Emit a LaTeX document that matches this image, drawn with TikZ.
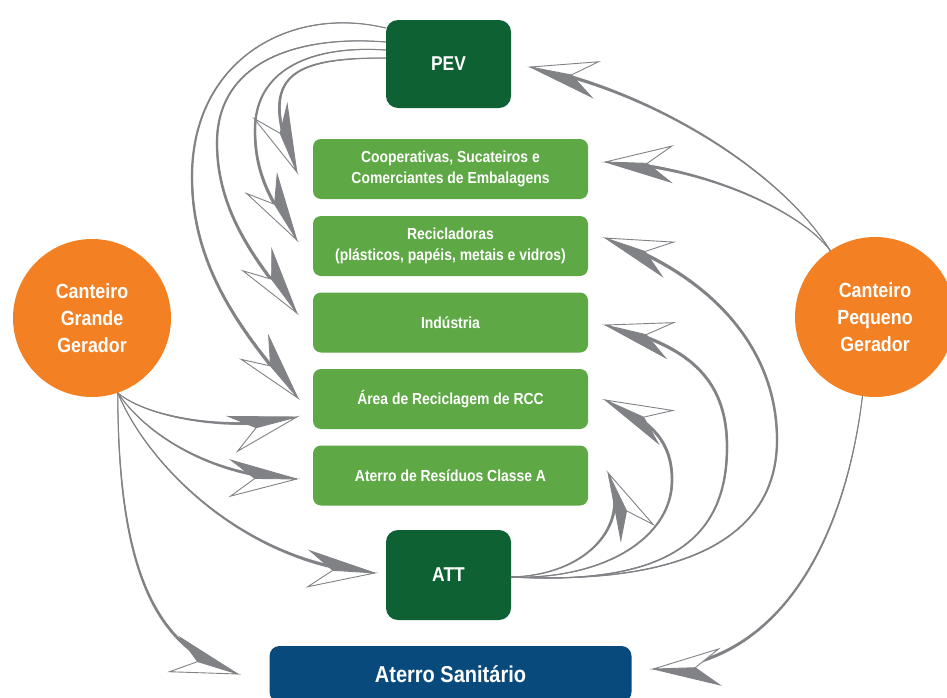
\documentclass[tikz,border=0pt]{standalone}
\usepackage{fontspec}
\setmainfont{Liberation Sans}[FakeStretch=0.87]
\usetikzlibrary{shapes,arrows,positioning,calc,decorations.markings}

\definecolor{pevgreen}{RGB}{14,97,50}
\definecolor{boxgreen}{RGB}{94,168,69}
\definecolor{sanitblue}{RGB}{9,74,125}
\definecolor{canteiroorange}{RGB}{244,128,36}
\definecolor{flowgray}{RGB}{128,130,134}

\newcommand{\flowhead}{%
  \fill[flowgray] (0pt,0pt) -- (-66pt,18pt) -- (-42pt,0pt) -- cycle;
  \filldraw[fill=white, draw=flowgray, line width=0.9pt, line join=miter] (0pt,0pt) -- (-42pt,0pt) -- (-66pt,-18pt) -- cycle;
  \draw[flowgray, line width=0.9pt, line join=miter] (0pt,0pt) -- (-66pt,18pt) -- (-42pt,0pt);
}
\newcommand{\flowdot}{%
  \pgfmathsetmacro\flowr{0.5+1.5*(\pgfkeysvalueof{/pgf/decoration/mark info/distance from start})/(\pgfdecoratedpathlength)}%
  \fill[flowgray] (0pt,0pt) circle (\flowr pt);
}

\begin{document}
\begin{tikzpicture}[x=1pt, y=-1pt,
  darkbox/.style={rectangle, rounded corners=12pt, fill=pevgreen, text=white, minimum width=125pt, minimum height=88pt, font=\fontsize{20}{24}\selectfont\bfseries},
  greenbox/.style={rectangle, rounded corners=8pt, fill=boxgreen, text=white, minimum width=275pt, minimum height=60pt, align=center, font=\fontsize{16}{21}\selectfont\bfseries},
  bluebox/.style={rectangle, rounded corners=10pt, fill=sanitblue, text=white, minimum width=362pt, minimum height=56pt, font=\fontsize{23}{27}\selectfont\bfseries},
  canteiro/.style={circle, fill=canteiroorange, text=white, align=center, font=\fontsize{20.5}{27}\selectfont\bfseries},
  flow/.style={draw=flowgray, line width=1pt,
    postaction={decorate, decoration={markings, mark=between positions 0 and 0.97 step 0.8pt with {\flowdot}}},
    postaction={decorate, decoration={markings, mark=at position 0.9999 with {\flowhead}}}}]
\useasboundingbox (0,0) rectangle (947,697);

\node[darkbox] (pev) at (448.5,64) {PEV};
\node[greenbox] (coop) at (450.5,169) {Cooperativas, Sucateiros e\\Comerciantes de Embalagens};
\node[greenbox] (recic) at (450.5,246) {Recicladoras\\(plásticos, papéis, metais e vidros)};
\node[greenbox] (ind) at (450.5,322.5) {Indústria};
\node[greenbox] (rcc) at (450.5,399) {Área de Reciclagem de RCC};
\node[greenbox] (classea) at (450.5,475.5) {Aterro de Resíduos Classe A};
\node[darkbox, minimum height=90pt] (att) at (448.5,575) {ATT};
\node[bluebox] (sanit) at (450.5,674) {Aterro Sanitário};
\node[canteiro, minimum size=158pt] (grande) at (92,318) {Canteiro\\Grande\\Gerador};
\node[canteiro, minimum size=160pt] (pequeno) at (875,317) {Canteiro\\Pequeno\\Gerador};

\draw[flow] ($(pev.west)+(0,-36)$) .. controls (290,5) and (192,60) .. (192,177) .. controls (192,270) and (245,336) .. ($(rcc.west)+(-15,-1)$);
\draw[flow] ($(pev.west)+(0,-22)$) .. controls (300,35) and (217,60) .. (217,143) .. controls (217,220) and (267,273) .. ($(ind.west)+(-16,-9.5)$);
\draw[flow] ($(pev.west)+(0,-14)$) .. controls (310,45) and (255,70) .. (255,130) .. controls (255,180) and (275,205) .. ($(recic.west)+(-16,-6)$);
\draw[flow] ($(pev.west)+(0,-6)$) .. controls (290,58) and (255,75) .. ($(coop.west)+(-16,3)$);

\draw[flow] (grande.289) .. controls (150,420) and (240,432) .. ($(rcc.west)+(-16,18)$);
\draw[flow] (grande.289) .. controls (150,440) and (220,478) .. ($(classea.west)+(-16,3.5)$);
\draw[flow] (grande.289) .. controls (150,470) and (250,565) .. ($(att.west)+(-11,-2)$);
\draw[flow] (grande.289) .. controls (118,580) and (160,650) .. ($(sanit.west)+(-31.5,0)$);

\draw[flow] ($(att.east)+(0,2)$) .. controls (590,575) and (632,522) .. ($(classea.east)+(20,-2.5)$);
\draw[flow] ($(att.east)+(0,2)$) .. controls (600,580) and (672,540) .. (672,480) .. controls (672,440) and (650,420) .. ($(rcc.east)+(17,1)$);
\draw[flow] ($(att.east)+(0,2)$) .. controls (660,585) and (727,545) .. (727,447) .. controls (727,380) and (690,345) .. ($(ind.east)+(17,2.5)$);
\draw[flow] ($(att.east)+(0,2)$) .. controls (680,585) and (777,540) .. (777,440) .. controls (777,340) and (700,270) .. ($(recic.east)+(17,-8)$);

\draw[flow] (pequeno.124) .. controls (780,170) and (650,90) .. ($(pev.east)+(19,3)$);
\draw[flow] (pequeno.124) .. controls (800,210) and (700,165) .. ($(coop.east)+(17,-7)$);
\draw[flow] (pequeno.261) .. controls (845,540) and (780,665) .. ($(sanit.east)+(21.5,-5)$);
\end{tikzpicture}
\end{document}
